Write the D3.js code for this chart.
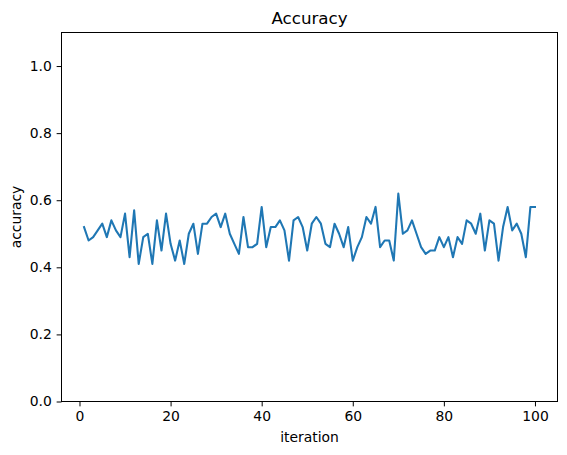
<!DOCTYPE html>
<html>
<head>
<meta charset="utf-8">
<script src="https://cdn.jsdelivr.net/npm/d3@7"></script>
<style>
  html, body { margin: 0; padding: 0; background: #fff; }
  svg { display: block; font-family: "DejaVu Sans", sans-serif; }
</style>
</head>
<body>
<svg id="chart" width="567" height="455"></svg>
<script>
const title = "Accuracy";
const xLabel = "iteration";
const yLabel = "accuracy";
const iterations = d3.range(1, 101);
const accuracy = [
  0.52, 0.48, 0.49, 0.51, 0.53, 0.49, 0.54, 0.51, 0.49, 0.56,
  0.43, 0.57, 0.41, 0.49, 0.50, 0.41, 0.54, 0.45, 0.56, 0.47,
  0.42, 0.48, 0.41, 0.50, 0.53, 0.44, 0.53, 0.53, 0.55, 0.56,
  0.52, 0.56, 0.50, 0.47, 0.44, 0.55, 0.46, 0.46, 0.47, 0.58,
  0.46, 0.52, 0.52, 0.54, 0.51, 0.42, 0.54, 0.55, 0.52, 0.45,
  0.53, 0.55, 0.53, 0.47, 0.46, 0.53, 0.50, 0.46, 0.52, 0.42,
  0.46, 0.49, 0.55, 0.53, 0.58, 0.46, 0.48, 0.48, 0.42, 0.62,
  0.50, 0.51, 0.54, 0.50, 0.46, 0.44, 0.45, 0.45, 0.49, 0.46,
  0.49, 0.43, 0.49, 0.47, 0.54, 0.53, 0.50, 0.56, 0.45, 0.54,
  0.53, 0.42, 0.52, 0.58, 0.51, 0.53, 0.50, 0.43, 0.58, 0.58
];
const xTicks = [0, 20, 40, 60, 80, 100];
const yTicks = [0.0, 0.2, 0.4, 0.6, 0.8, 1.0];
const yDomain = [0, 1.1];

const svg = d3.select("#chart");
const mLeft = 61.5, mRight = 557.5, mTop = 32.5, mBottom = 401.5;

const pad = (100 - 1) * 0.05;
const x = d3.scaleLinear().domain([1 - pad, 100 + pad]).range([mLeft, mRight]);
const y = d3.scaleLinear().domain(yDomain).range([mBottom, mTop]);

// line
const line = d3.line().x((d, i) => x(iterations[i])).y(d => y(d));
svg.append("path")
  .datum(accuracy)
  .attr("d", line)
  .attr("fill", "none")
  .attr("stroke", "#1f77b4")
  .attr("stroke-width", 2.08)
  .attr("stroke-linejoin", "round")
  .attr("stroke-linecap", "square");

// axes
const xAxis = d3.axisBottom(x).tickValues(xTicks).tickFormat(d3.format("d")).tickSize(4.86).tickPadding(4.9);
const yAxis = d3.axisLeft(y).tickValues(yTicks).tickFormat(d3.format(".1f")).tickSize(4.86).tickPadding(4.9);

const gx = svg.append("g").attr("transform", `translate(0,${mBottom})`).call(xAxis);
const gy = svg.append("g").attr("transform", `translate(${mLeft},0)`).call(yAxis);
[gx, gy].forEach(g => {
  g.select(".domain").remove();
  g.selectAll(".tick line").attr("stroke", "#000").attr("stroke-width", 1);
  g.selectAll(".tick text").attr("fill", "#000").style("font-size", "13.9px").style("font-family", "DejaVu Sans");
});

// frame
svg.append("rect")
  .attr("x", mLeft).attr("y", mTop)
  .attr("width", mRight - mLeft).attr("height", mBottom - mTop)
  .attr("fill", "none").attr("stroke", "#000").attr("stroke-width", 1);

// title and labels
svg.append("text").attr("x", (mLeft + mRight) / 2).attr("y", 24)
  .attr("text-anchor", "middle").style("font-size", "16.7px").text(title);
svg.append("text").attr("x", (mLeft + mRight) / 2).attr("y", 442)
  .attr("text-anchor", "middle").style("font-size", "13.9px").text(xLabel);
svg.append("text").attr("transform", `translate(21,${(mTop + mBottom) / 2}) rotate(-90)`)
  .attr("text-anchor", "middle").style("font-size", "13.9px").text(yLabel);
</script>
</body>
</html>
